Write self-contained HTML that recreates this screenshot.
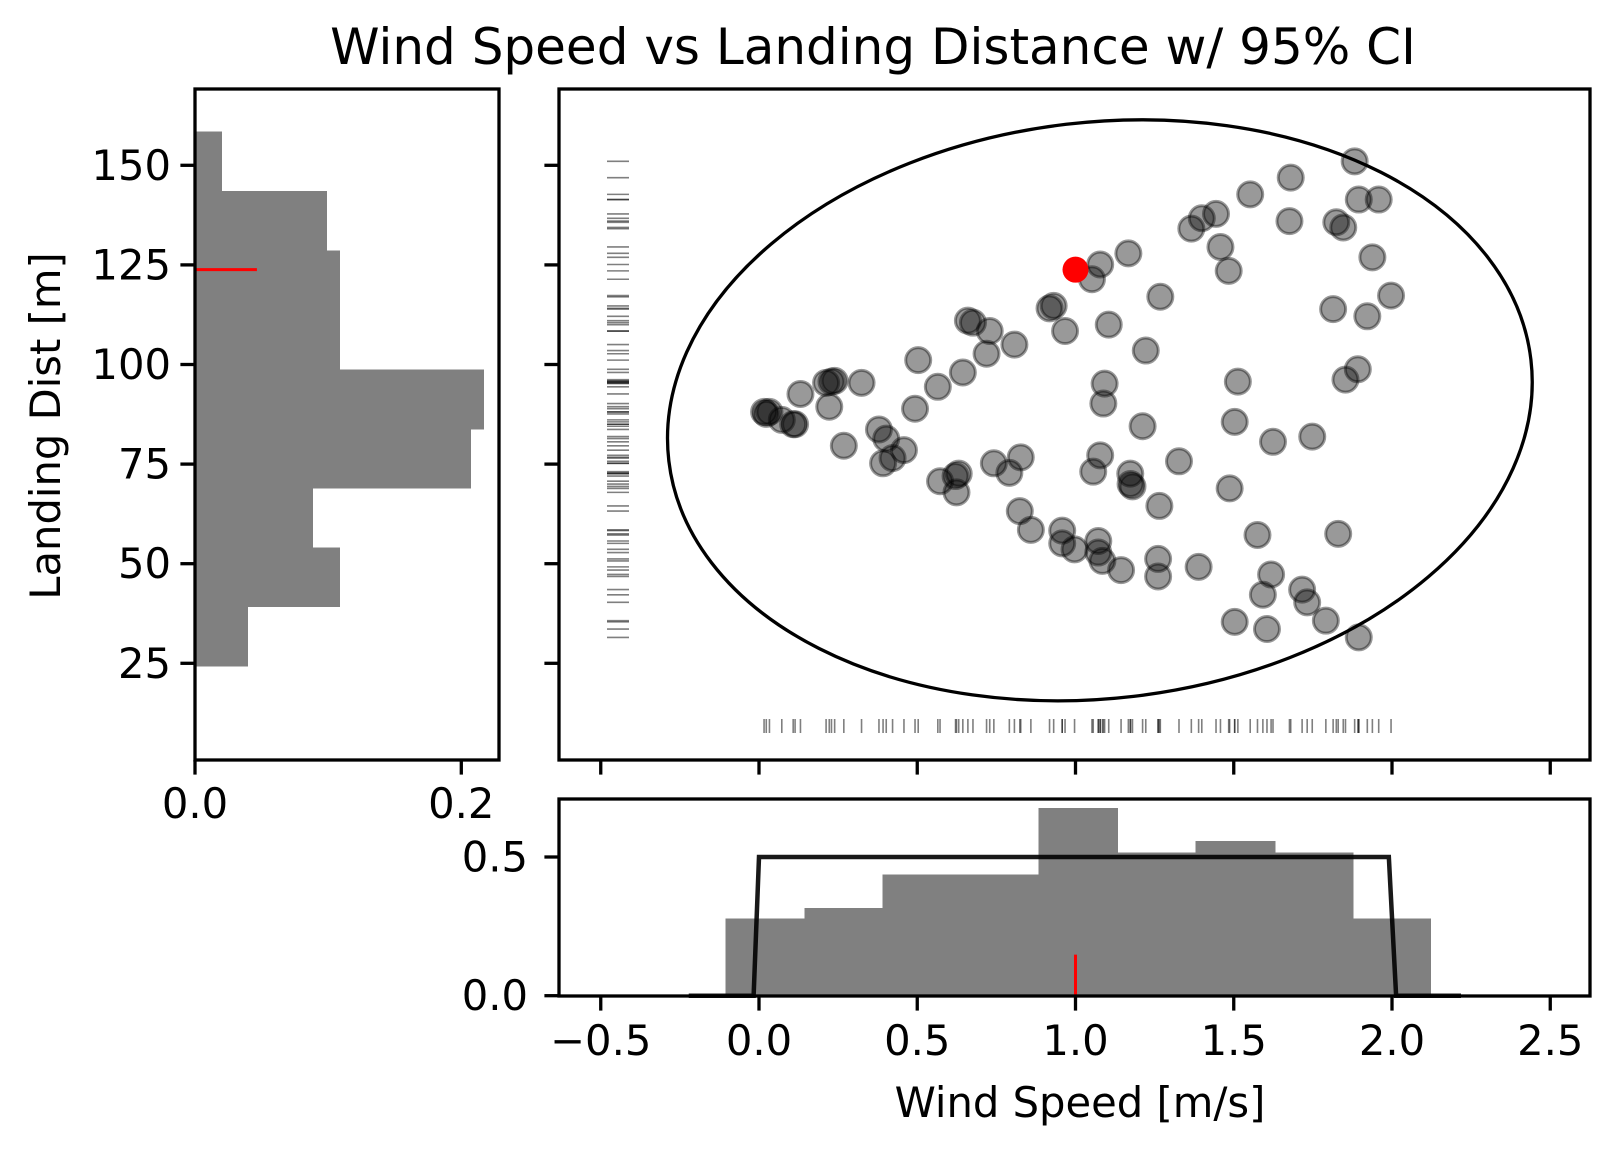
<!DOCTYPE html>
<html><head><meta charset="utf-8"><style>
html,body{margin:0;padding:0;background:#fff;}
svg{display:block;font-family:"DejaVu Sans","Liberation Sans",sans-serif;}
</style></head><body>
<svg id="fig" width="1620" height="1151" viewBox="0 0 1620 1151" xmlns="http://www.w3.org/2000/svg">
<rect width="1620" height="1151" fill="#fff"/>
<text x="873" y="64" font-size="50" text-anchor="middle">Wind Speed vs Landing Distance w/ 95% CI</text>
<text transform="translate(60,426) rotate(-90)" font-size="41.7" text-anchor="middle">Landing Dist [m]</text>
<text x="1080" y="1117" font-size="41.7" text-anchor="middle">Wind Speed [m/s]</text>
<g id="g-left"></g>
<g id="g-main"></g>
<g id="g-bot"></g>
</svg>
<script>
const windSpeed=[0.033,0.016,0.023,0.072,0.108,0.114,0.131,0.212,0.229,0.239,0.222,0.324,0.268,0.379,0.402,0.392,0.422,0.458,0.493,0.503,0.565,0.644,0.660,0.676,0.719,0.729,0.807,0.742,0.791,0.827,0.572,0.621,0.631,0.624,0.824,0.859,0.958,0.958,0.997,0.918,0.931,0.967,1.078,1.052,1.167,1.105,1.222,1.268,1.092,1.088,1.212,1.078,1.056,1.173,1.180,1.174,1.265,1.327,1.072,1.072,1.085,1.144,1.261,1.261,1.389,1.487,1.503,1.513,1.458,1.366,1.399,1.444,1.552,1.680,1.676,1.484,1.624,1.748,1.575,1.618,1.592,1.503,1.605,1.716,1.732,1.791,1.895,1.830,1.814,1.892,1.853,1.922,1.997,1.938,1.895,1.958,1.824,1.846,1.882];
const landingDist=[88.1,88.1,87.6,86.1,85.0,85.0,92.6,95.4,95.7,95.9,89.4,95.4,79.6,83.7,81.4,75.2,76.5,78.5,88.9,101.1,94.4,98.0,111.0,110.5,102.7,108.4,105.0,75.2,72.8,76.7,70.7,72.0,72.6,67.9,63.2,58.5,58.3,55.1,53.6,114.1,114.7,108.4,125.1,121.4,127.9,110.0,103.5,117.0,95.2,90.2,84.5,77.2,73.1,72.6,69.4,70.0,64.5,75.7,55.7,52.8,50.7,48.4,51.2,46.8,49.2,68.9,85.6,95.7,129.5,134.1,136.7,137.8,142.7,146.9,136.0,123.5,80.6,81.9,57.2,47.3,42.2,35.4,33.6,43.5,40.3,35.7,31.5,57.5,113.9,98.8,96.2,112.1,117.3,126.9,141.4,141.4,135.7,134.4,151.0];
const highlight=[1.0,123.8];
const distBinEdges=[24.3,39.2,54.0,69.0,83.8,98.6,113.5,128.5,143.4,158.3];
const distDensity=[0.0398,0.109,0.0886,0.2074,0.2171,0.109,0.109,0.0993,0.0203];
const windBinEdges=[-0.105,0.146,0.392,0.638,0.885,1.133,1.381,1.630,1.876,2.122];
const windDensity=[0.278,0.317,0.437,0.437,0.676,0.516,0.557,0.516,0.278];
const pdfX=[-0.222,-0.017,0.0,1.99,2.013,2.218];
const pdfY=[0,0,0.5,0.5,0,0];
const xTicks=[-0.5,0,0.5,1.0,1.5,2.0,2.5];
const xTickLabels=["\u22120.5","0.0","0.5","1.0","1.5","2.0","2.5"];
const yTicks=[25,50,75,100,125,150];
const histXTicks=[0,0.2];
const histXTickLabels=["0.0","0.2"];
const densYTicks=[0,0.5];
const densYTickLabels=["0.0","0.5"];

const NS="http://www.w3.org/2000/svg";
function mk(parent,tag,attrs){const e=document.createElementNS(NS,tag);for(const k in attrs)e.setAttribute(k,attrs[k]);parent.appendChild(e);return e;}
const X=v=>759+316.5*v;
const Y=v=>663.3-3.984*(v-25);
const HX=v=>195+1331.5*v;
const BY=v=>995.7-277.4*v;
const M={l:559,r:1590,t:89,b:760};
const L={l:195,r:499,t:89,b:760};
const B={l:559,r:1590,t:799,b:996};
const gL=document.getElementById('g-left'),gM=document.getElementById('g-main'),gB=document.getElementById('g-bot');

// left histogram
for(let i=0;i<distDensity.length;i++){
 const r=mk(gL,'rect',{x:HX(0),y:Y(distBinEdges[i+1])-0.5,width:HX(distDensity[i])-HX(0),height:Y(distBinEdges[i])-Y(distBinEdges[i+1])+1,fill:'#808080','shape-rendering':'crispEdges'});
 
 
}
let rl=mk(gL,'line',{x1:HX(0),x2:HX(0.0465),y1:Y(highlight[1]),y2:Y(highlight[1]),stroke:'red','stroke-width':3});


let fr=mk(gL,'rect',{x:L.l,y:L.t,width:L.r-L.l,height:L.b-L.t,fill:'none',stroke:'#000','stroke-width':3.3});


yTicks.forEach(v=>{
 mk(gL,'line',{x1:L.l-14.6,x2:L.l,y1:Y(v),y2:Y(v),stroke:'#000','stroke-width':3.3});
 const t=mk(gL,'text',{x:L.l-24,y:Y(v)+14.5,'font-size':41.7,'text-anchor':'end'});t.textContent=v;
 
 
});
histXTicks.forEach((v,i)=>{
 mk(gL,'line',{x1:HX(v),x2:HX(v),y1:L.b,y2:L.b+14.6,stroke:'#000','stroke-width':3.3});
 const t=mk(gL,'text',{x:HX(v),y:818,'font-size':41.7,'text-anchor':'middle'});t.textContent=histXTickLabels[i];
 
 
});

// main scatter
let el=mk(gM,'ellipse',{cx:0,cy:0,rx:434,ry:288,fill:'none',stroke:'#000','stroke-width':3.3,transform:'translate('+X(1.077)+','+Y(88.5)+') rotate(-6.7)'});


landingDist.forEach(v=>{
 const l=mk(gM,'line',{x1:607,x2:629,y1:Y(v),y2:Y(v),stroke:'#000','stroke-opacity':0.5,'stroke-width':1.6});
 
 
});
windSpeed.forEach(v=>{
 const l=mk(gM,'line',{x1:X(v),x2:X(v),y1:719,y2:733,stroke:'#000','stroke-opacity':0.5,'stroke-width':1.6});
 
 
});
windSpeed.forEach((v,i)=>{
 const c=mk(gM,'circle',{cx:X(v),cy:Y(landingDist[i]),r:12.5,fill:'#000','fill-opacity':0.4,stroke:'#000','stroke-opacity':0.4,'stroke-width':3});
 
 
});
let hp=mk(gM,'circle',{cx:X(highlight[0]),cy:Y(highlight[1]),r:13,fill:'red'});


fr=mk(gM,'rect',{x:M.l,y:M.t,width:M.r-M.l,height:M.b-M.t,fill:'none',stroke:'#000','stroke-width':3.3});


yTicks.forEach(v=>{mk(gM,'line',{x1:M.l-14.6,x2:M.l,y1:Y(v),y2:Y(v),stroke:'#000','stroke-width':3.3});});
xTicks.forEach(v=>{mk(gM,'line',{x1:X(v),x2:X(v),y1:M.b,y2:M.b+14.6,stroke:'#000','stroke-width':3.3});});

// bottom histogram
for(let i=0;i<windDensity.length;i++){
 const r=mk(gB,'rect',{x:X(windBinEdges[i])-0.5,y:BY(windDensity[i]),width:X(windBinEdges[i+1])-X(windBinEdges[i])+1,height:BY(0)-BY(windDensity[i]),fill:'#808080','shape-rendering':'crispEdges'});
 
 
}
let pd=mk(gB,'polyline',{points:pdfX.map((v,i)=>X(v)+','+BY(pdfY[i])).join(' '),fill:'none',stroke:'#000','stroke-opacity':0.9,'stroke-width':4.5});


let rb=mk(gB,'line',{x1:X(highlight[0]),x2:X(highlight[0]),y1:BY(0),y2:BY(0.148),stroke:'red','stroke-width':3});


fr=mk(gB,'rect',{x:B.l,y:B.t,width:B.r-B.l,height:B.b-B.t,fill:'none',stroke:'#000','stroke-width':3.3});


densYTicks.forEach((v,i)=>{
 mk(gB,'line',{x1:B.l-14.6,x2:B.l,y1:BY(v),y2:BY(v),stroke:'#000','stroke-width':3.3});
 const t=mk(gB,'text',{x:528,y:BY(v)+14.5,'font-size':41.7,'text-anchor':'end'});t.textContent=densYTickLabels[i];
 
 
});
xTicks.forEach((v,i)=>{
 mk(gB,'line',{x1:X(v),x2:X(v),y1:B.b,y2:B.b+14.6,stroke:'#000','stroke-width':3.3});
 const t=mk(gB,'text',{x:X(v),y:1055,'font-size':41.7,'text-anchor':'middle'});t.textContent=xTickLabels[i];
 
 
});
</script>
</body></html>
